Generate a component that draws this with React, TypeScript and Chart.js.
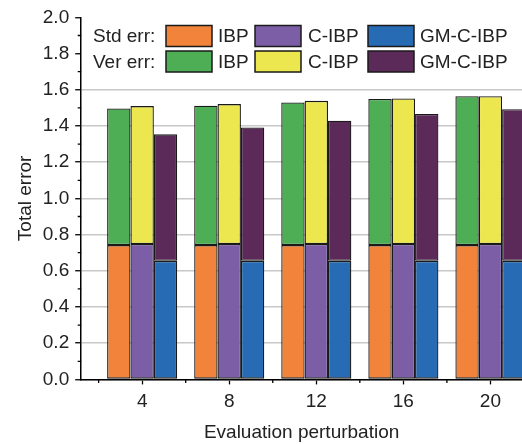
import React, { useEffect, useRef } from "react";
import { Chart, registerables } from "chart.js";

Chart.register(...registerables);

// ---- data ----
const perturbations = [4, 8, 12, 16, 20];
const stdIBP = [0.742, 0.742, 0.742, 0.742, 0.742];
const stdCIBP = [0.748, 0.748, 0.748, 0.748, 0.748];
const stdGMCIBP = [0.655, 0.655, 0.655, 0.655, 0.655];
const verIBP = [0.755, 0.77, 0.788, 0.807, 0.823];
const verCIBP = [0.762, 0.773, 0.791, 0.804, 0.817];
const verGMCIBP = [0.699, 0.737, 0.774, 0.811, 0.838];
const yMajorTicks = [0, 0.2, 0.4, 0.6, 0.8, 1.0, 1.2, 1.4, 1.6, 1.8, 2.0];
const yMinorTicks = [0.1, 0.3, 0.5, 0.7, 0.9, 1.1, 1.3, 1.5, 1.7, 1.9];
const xMinorTicks = [2, 6, 10, 14, 18];
const methodNames = ["IBP", "C-IBP", "GM-C-IBP"];

const C = {
  orange: "#F1843A",
  purple: "#7B5EA6",
  blue: "#276BB4",
  green: "#4DAE55",
  yellow: "#EDE74F",
  plum: "#5B2A58",
};

const FONT = "'Liberation Sans', Arial, sans-serif";
const FS = 19;

const pts = (vals: number[]) => perturbations.map((x, i) => ({ x, y: vals[i] }));

const legendPlugin = {
  id: "customLegend",
  afterDraw(chart: any) {
    const ctx = chart.ctx;
    const rows = [
      { label: "Std err:", y: 36, colors: [C.orange, C.purple, C.blue] },
      { label: "Ver err:", y: 61.5, colors: [C.green, C.yellow, C.plum] },
    ];
    const boxX = [166, 255, 368];
    const textX = [218, 308, 420];
    ctx.save();
    ctx.font = `${FS}px ${FONT}`;
    ctx.textBaseline = "middle";
    rows.forEach((r) => {
      ctx.fillStyle = "#222";
      ctx.textAlign = "left";
      ctx.fillText(r.label, 93, r.y + 1);
      r.colors.forEach((c, i) => {
        ctx.fillStyle = c;
        ctx.fillRect(boxX[i], r.y - 10.5, 46, 21);
        ctx.lineWidth = 1.5;
        ctx.strokeStyle = "#1a1a1a";
        ctx.strokeRect(boxX[i], r.y - 10.5, 46, 21);
        ctx.fillStyle = "#222";
        ctx.fillText(methodNames[i], textX[i], r.y + 1);
      });
    });
    ctx.restore();
  },
};

const minorTickPlugin = {
  id: "minorTicks",
  afterDraw(chart: any) {
    const ctx = chart.ctx;
    const xs = chart.scales.x;
    const ys = chart.scales.y;
    const area = chart.chartArea;
    ctx.save();
    ctx.strokeStyle = "#000";
    ctx.lineWidth = 1.3;
    ctx.beginPath();
    yMinorTicks.forEach((v) => {
      const py = ys.getPixelForValue(v);
      ctx.moveTo(area.left - 3.5, py);
      ctx.lineTo(area.left, py);
    });
    xMinorTicks.forEach((v) => {
      const px = xs.getPixelForValue(v);
      ctx.moveTo(px, area.bottom);
      ctx.lineTo(px, area.bottom + 3.5);
    });
    ctx.stroke();
    ctx.restore();
  },
};

export default function App() {
  const ref = useRef<HTMLCanvasElement>(null);
  useEffect(() => {
    if (!ref.current) return;
    const ds = (label: string, stack: string, vals: number[], color: string) => ({
      label,
      stack,
      data: pts(vals),
      backgroundColor: color,
      borderColor: "#1a1a1a",
      borderWidth: 1.3,
      borderSkipped: false,
      categoryPercentage: 0.805,
      barPercentage: 1.0,
    });
    const chart = new Chart(ref.current, {
      type: "bar",
      data: {
        datasets: [
          ds("Std err: IBP", "IBP", stdIBP, C.orange),
          ds("Ver err: IBP", "IBP", verIBP, C.green),
          ds("Std err: C-IBP", "CIBP", stdCIBP, C.purple),
          ds("Ver err: C-IBP", "CIBP", verCIBP, C.yellow),
          ds("Std err: GM-C-IBP", "GM", stdGMCIBP, C.blue),
          ds("Ver err: GM-C-IBP", "GM", verGMCIBP, C.plum),
        ],
      },
      options: {
        animation: false,
        responsive: false,
        devicePixelRatio: 1,
        layout: { padding: { top: 6, left: 10, right: 0, bottom: 0 } },
        plugins: { legend: { display: false }, tooltip: { enabled: false } },
        scales: {
          x: {
            type: "linear",
            min: 1.2,
            max: 21.45,
            offset: false,
            afterBuildTicks: (axis: any) => {
              axis.ticks = perturbations.map((v) => ({ value: v }));
            },
            grid: {
              offset: false,
              drawOnChartArea: false,
              drawTicks: true,
              tickLength: 5,
              tickColor: "#000",
              tickWidth: 1.3,
            },
            border: { color: "#000", width: 1.5 },
            ticks: {
              padding: 6,
              color: "#222",
              font: { family: FONT, size: FS },
              maxRotation: 0,
              callback: (v: any) => String(v),
            },
            title: {
              display: true,
              text: "Evaluation perturbation",
              color: "#222",
              font: { family: FONT, size: FS },
              padding: { top: 2, bottom: 0 },
            },
          },
          y: {
            type: "linear",
            min: 0,
            max: 2.0,
            stacked: true,
            afterBuildTicks: (axis: any) => {
              axis.ticks = yMajorTicks.map((v) => ({ value: v }));
            },
            grid: {
              color: (c: any) => (c.tick && c.tick.value >= 1.75 ? "rgba(0,0,0,0)" : "#c8c8c8"),
              lineWidth: 1.5,
              tickColor: "#000",
              tickLength: 6,
              tickWidth: 1.3,
            },
            border: { color: "#000", width: 1.5 },
            ticks: {
              padding: 6,
              color: "#222",
              font: { family: FONT, size: FS },
              callback: (v: any) => Number(v).toFixed(1),
            },
            title: {
              display: true,
              text: "Total error",
              color: "#222",
              font: { family: FONT, size: FS },
              padding: { top: 4, bottom: 0 },
            },
          },
        },
      } as any,
      plugins: [legendPlugin, minorTickPlugin],
    });
    return () => chart.destroy();
  }, []);
  return (
    <div
      style={{
        position: "fixed",
        left: 0,
        top: 0,
        width: 522,
        height: 444,
        overflow: "hidden",
        background: "#fff",
      }}
    >
      <canvas ref={ref} width={522} height={444} style={{ width: 522, height: 444 }} />
    </div>
  );
}
